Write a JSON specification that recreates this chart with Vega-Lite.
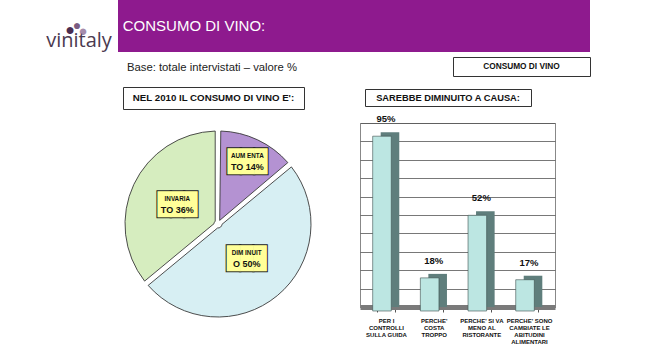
{
  "$schema": "https://vega.github.io/schema/vega-lite/v6.json",
  "padding": 0,
  "background": "white",
  "config": {"view": {"stroke": null}, "font": "Liberation Sans", "text": {"font": "Liberation Sans"}},
  "spacing": 0,
  "vconcat": [
    {
      "spacing": 0,
      "hconcat": [
        {"width": 40, "height": 52, "data": {"values": []}, "mark": "text", "encoding": {"text": {"value": ""}}},
        {
          "width": 78, "height": 52,
          "data": {"values": [{"logo": "vinitaly"}]},
          "layer": [
            {"mark": {"type": "text", "fontSize": 15, "color": "#a58cab", "dx": 4, "dy": 5, "baseline": "middle"}, "encoding": {"text": {"value": "●"}}},
            {"mark": {"type": "text", "fontSize": 14, "color": "#7b5c82", "dx": -2, "dy": 0, "baseline": "middle"}, "encoding": {"text": {"value": "●"}}},
            {"mark": {"type": "text", "fontSize": 16, "color": "#4a2c50", "dx": -9, "dy": 4, "baseline": "middle"}, "encoding": {"text": {"value": "●"}}},
            {"mark": {"type": "text", "fontSize": 20, "font": "Open Sans", "color": "#4b3a50", "baseline": "alphabetic", "dy": 21}, "encoding": {"text": {"field": "logo"}}}
          ]
        },
        {
          "width": 152, "height": 52, "view": {"fill": "#8e1a8e", "stroke": null},
          "data": {"values": [{"t": "CONSUMO DI VINO:"}]},
          "mark": {"type": "text", "fontSize": 15, "color": "white"},
          "encoding": {"text": {"field": "t"}}
        },
        {
          "width": 320, "height": 52, "view": {"fill": "#8e1a8e", "stroke": null},
          "data": {"values": []}, "mark": "text", "encoding": {"text": {"value": ""}}
        }
      ]
    },
    {
      "spacing": 28,
      "hconcat": [
        {
          "width": 424, "height": 32,
          "data": {"values": [{"t": "Base: totale intervistati – valore %"}]},
          "mark": {"type": "text", "fontSize": 11.3, "color": "#222"},
          "encoding": {"text": {"field": "t"}}
        },
        {
          "spacing": 0,
          "vconcat": [
            {"width": 1, "height": 4, "data": {"values": []}, "mark": "text", "encoding": {"text": {"value": ""}}},
            {
              "width": 137, "height": 19, "view": {"stroke": "#333", "strokeWidth": 1, "fill": "white"},
              "data": {"values": [{"t": "CONSUMO DI VINO"}]},
              "mark": {"type": "text", "fontSize": 8.3, "fontWeight": "bold", "color": "#111"},
              "encoding": {"text": {"field": "t"}}
            }
          ]
        }
      ]
    },
    {
      "spacing": 0,
      "hconcat": [
        {"width": 122, "height": 1, "data": {"values": []}, "mark": "text", "encoding": {"text": {"value": ""}}},
        {
          "spacing": 0,
          "vconcat": [
            {"width": 1, "height": 2, "data": {"values": []}, "mark": "text", "encoding": {"text": {"value": ""}}},
            {
              "width": 181, "height": 22, "view": {"stroke": "#333", "strokeWidth": 1, "fill": "white"},
              "data": {"values": [{"t": "NEL 2010 IL CONSUMO DI VINO E':"}]},
              "mark": {"type": "text", "fontSize": 9.7, "fontWeight": "bold", "color": "#111"},
              "encoding": {"text": {"field": "t"}}
            },
            {
              "width": 190, "height": 228,
              "data": {"values": [
                {"cat": "AUMENTATO", "pct": 14, "l1": "AUM ENTA", "l2": "TO 14%"},
                {"cat": "DIMINUITO", "pct": 50, "l1": "DIM INUIT", "l2": "O 50%"},
                {"cat": "INVARIATO", "pct": 36, "l1": "INVARIA", "l2": "TO 36%"}
              ]},
              "encoding": {
                "theta": {"field": "pct", "type": "quantitative", "stack": true},
                "order": {"field": "cat", "sort": "ascending"}
              },
              "layer": [
                {
                  "mark": {"type": "arc", "outerRadius": 93, "innerRadius": 4, "padAngle": 0.06, "stroke": "#3a3a3a", "strokeWidth": 0.9},
                  "encoding": {"color": {"field": "cat", "type": "nominal", "scale": {"domain": ["AUMENTATO", "DIMINUITO", "INVARIATO"], "range": ["#b492d2", "#d7eff3", "#d6edbf"]}, "legend": null}}
                },
                {
                  "mark": {"type": "text", "font": "DejaVu Sans Mono", "fontSize": 22, "color": "#222", "stroke": "#222", "strokeWidth": 2, "baseline": "middle"},
                  "encoding": {"text": {"value": "███"}, "radius": {"field": "pct", "type": "quantitative", "scale": {"type": "linear", "domain": [14, 36], "range": [69, 45], "clamp": true, "zero": false}}}
                },
                {
                  "mark": {"type": "text", "font": "DejaVu Sans Mono", "fontSize": 22, "color": "#ffff99", "baseline": "middle"},
                  "encoding": {"text": {"value": "███"}, "radius": {"field": "pct", "type": "quantitative"}}
                },
                {
                  "mark": {"type": "text", "fontSize": 6.3, "fontWeight": "bold", "letterSpacing": 1, "dy": -6, "color": "#111"},
                  "encoding": {"text": {"field": "l1"}, "radius": {"field": "pct", "type": "quantitative"}}
                },
                {
                  "mark": {"type": "text", "fontSize": 9, "fontWeight": "bold", "dy": 5, "color": "#111"},
                  "encoding": {"text": {"field": "l2"}, "radius": {"field": "pct", "type": "quantitative"}}
                }
              ]
            }
          ]
        },
        {
          "spacing": 0,
          "vconcat": [
            {"width": 1, "height": 4, "data": {"values": []}, "mark": "text", "encoding": {"text": {"value": ""}}},
            {
              "spacing": 0,
              "hconcat": [
                {"width": 51, "height": 17, "data": {"values": []}, "mark": "text", "encoding": {"text": {"value": ""}}},
                {
                  "width": 166, "height": 17, "view": {"stroke": "#333", "strokeWidth": 1, "fill": "white"},
                  "data": {"values": [{"t": "SAREBBE DIMINUITO A CAUSA:"}]},
                  "mark": {"type": "text", "fontSize": 9.3, "fontWeight": "bold", "color": "#111"},
                  "encoding": {"text": {"field": "t"}}
                }
              ]
            },
            {"width": 1, "height": 6, "data": {"values": []}, "mark": "text", "encoding": {"text": {"value": ""}}},
            {
              "spacing": 0,
              "hconcat": [
                {"width": 46, "height": 1, "data": {"values": []}, "mark": "text", "encoding": {"text": {"value": ""}}},
                {
                  "width": 195, "height": 184,
                  "view": {"stroke": "#888", "strokeWidth": 1},
                  "data": {"values": [
                    {"cause": "PER I|CONTROLLI|SULLA GUIDA", "pct": 95, "lbl": "95%"},
                    {"cause": "PERCHE'|COSTA|TROPPO", "pct": 18, "lbl": "18%"},
                    {"cause": "PERCHE' SI VA|MENO AL|RISTORANTE", "pct": 52, "lbl": "52%"},
                    {"cause": "PERCHE' SONO|CAMBIATE LE|ABITUDINI|ALIMENTARI", "pct": 17, "lbl": "17%"}
                  ]},
                  "encoding": {
                    "x": {"field": "cause", "type": "nominal", "sort": null,
                      "scale": {"paddingInner": 0.61, "paddingOuter": 0.35},
                      "axis": {"title": null, "labelExpr": "split(datum.label, '|')", "labelFontSize": 6, "labelFontWeight": "bold", "labelLineHeight": 7, "labelAngle": 0, "labelColor": "#111", "labelFont": "Liberation Sans", "tickBand": "extent", "tickSize": 5, "tickColor": "#555", "labelPadding": 5, "domainColor": "#7a7a7a", "domainWidth": 5, "labelOverlap": false, "labelLimit": 0}},
                    "y": {"field": "pct", "type": "quantitative", "scale": {"domain": [0, 100]},
                      "axis": {"title": null, "labels": false, "ticks": false, "domain": false, "values": [0, 10, 20, 30, 40, 50, 60, 70, 80, 90, 100], "gridColor": "#555", "gridWidth": 0.8}}
                  },
                  "layer": [
                    {"mark": {"type": "bar", "color": "#5f7e7c", "xOffset": 4}},
                    {"mark": {"type": "bar", "color": "#bce6e2", "stroke": "#3d4f4e", "strokeWidth": 0.6, "xOffset": -4, "yOffset": 4}},
                    {"mark": {"type": "text", "fontWeight": "bold", "fontSize": 9.5, "dy": -13, "color": "#111"}, "encoding": {"text": {"field": "lbl"}}}
                  ]
                }
              ]
            }
          ]
        }
      ]
    }
  ]
}
